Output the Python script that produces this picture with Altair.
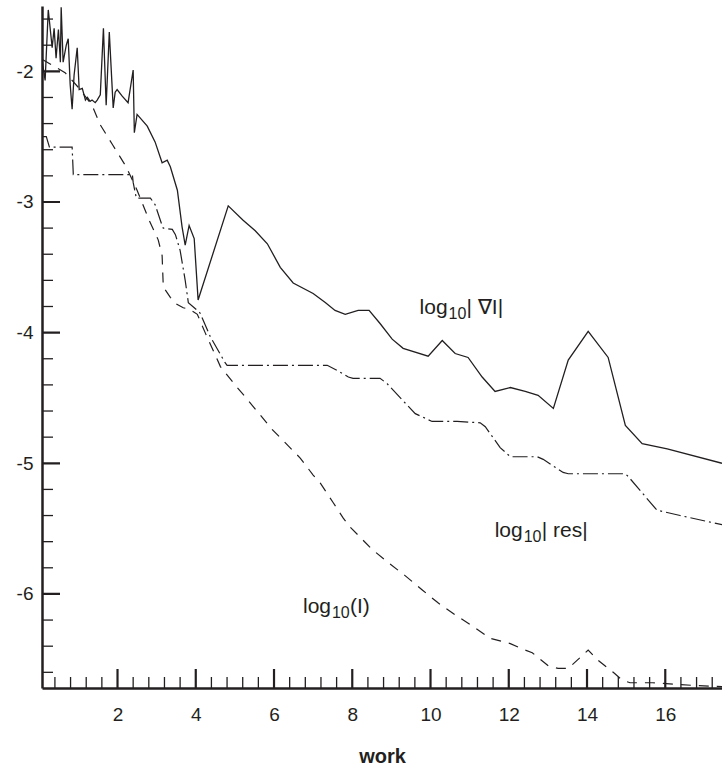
import altair as alt
import pandas as pd

# ---- data ----
grad_x = [0.08, 0.15, 0.23, 0.33, 0.38, 0.43, 0.49, 0.54, 0.56, 0.61,
          0.69, 0.74, 0.79, 0.84, 0.89, 0.97, 1.02, 1.10, 1.18, 1.23,
          1.30, 1.35, 1.43, 1.48, 1.56, 1.64, 1.71, 1.79, 1.89, 1.94,
          1.99, 2.12, 2.27, 2.40, 2.43, 2.50, 2.76, 2.96, 3.14, 3.27,
          3.35, 3.53, 3.65, 3.73, 3.83, 3.96, 4.06,
          4.83, 5.21, 5.52, 5.83, 6.16, 6.49, 7.00, 7.31, 7.56, 7.82,
          8.15, 8.43, 8.71, 9.02, 9.30, 9.94, 10.30, 10.63, 10.96, 11.32,
          11.65, 12.04, 12.42, 12.75, 13.14, 13.52, 14.03, 14.54, 14.98, 15.41,
          16.05, 17.45]
grad_y = [-1.93, -2.07, -1.53, -1.82, -1.67, -1.90, -1.68, -1.93, -1.51, -1.93,
          -1.80, -1.75, -2.10, -2.29, -2.03, -1.82, -2.14, -2.13, -2.22, -2.20,
          -2.23, -2.22, -2.24, -2.22, -2.18, -1.67, -2.26, -1.70, -2.28, -2.16,
          -2.14, -2.19, -2.24, -1.99, -2.47, -2.33, -2.42, -2.54, -2.70, -2.68,
          -2.73, -2.91, -3.19, -3.33, -3.18, -3.28, -3.75,
          -3.03, -3.14, -3.22, -3.32, -3.50, -3.62, -3.70, -3.77, -3.83, -3.86,
          -3.83, -3.83, -3.93, -4.05, -4.12, -4.18, -4.06, -4.16, -4.19, -4.34,
          -4.45, -4.42, -4.45, -4.48, -4.58, -4.21, -3.99, -4.19, -4.71, -4.85,
          -4.89, -5.00]

I_x = [0.08, 0.31, 0.66, 0.99, 1.35, 1.56, 1.87, 2.22, 2.50, 2.81,
       3.04, 3.14, 3.17, 3.35, 3.50, 3.68, 3.83, 4.04, 4.24, 4.63,
       5.06, 5.26, 5.95, 6.67, 7.00, 7.18, 7.51, 7.77, 7.95, 8.15,
       8.51, 8.92, 9.35, 9.79, 10.20, 10.63, 11.09, 11.53, 12.04, 12.34,
       12.60, 13.01, 13.26, 13.52, 14.03, 14.29, 14.67, 14.90, 15.10, 15.67,
       16.20, 16.71, 17.45]
I_y = [-1.91, -1.95, -2.01, -2.12, -2.26, -2.41, -2.56, -2.73, -2.91, -3.14,
       -3.29, -3.41, -3.65, -3.73, -3.78, -3.81, -3.82, -3.86, -4.00, -4.26,
       -4.42, -4.49, -4.74, -4.96, -5.09, -5.15, -5.30, -5.42, -5.49, -5.55,
       -5.66, -5.76, -5.86, -5.97, -6.07, -6.16, -6.25, -6.34, -6.38, -6.42,
       -6.45, -6.55, -6.57, -6.57, -6.43, -6.51, -6.60, -6.66, -6.68, -6.68,
       -6.69, -6.70, -6.71]

res_x = [0.08, 0.18, 0.26, 0.84, 0.87, 2.38, 2.40, 2.48, 2.84, 2.96,
         3.14, 3.17, 3.40, 3.48, 3.60, 3.73, 3.81, 4.04, 4.11, 4.37,
         4.75, 4.80, 7.36, 7.62, 7.90, 8.02, 8.71, 8.89, 9.23, 9.61,
         10.04, 10.68, 11.27, 11.40, 11.78, 12.04, 12.73, 12.88, 13.39, 13.52,
         14.98, 15.05, 15.79, 15.95, 16.38, 17.45]
res_y = [-2.50, -2.50, -2.58, -2.58, -2.79, -2.79, -2.85, -2.97, -2.97, -3.02,
         -3.18, -3.20, -3.21, -3.25, -3.37, -3.60, -3.77, -3.83, -3.85, -4.03,
         -4.23, -4.25, -4.25, -4.29, -4.34, -4.35, -4.35, -4.39, -4.50, -4.62,
         -4.68, -4.68, -4.69, -4.72, -4.88, -4.95, -4.95, -4.97, -5.07, -5.08,
         -5.08, -5.10, -5.36, -5.37, -5.40, -5.47]

x_major = [2, 4, 6, 8, 10, 12, 14, 16]
x_minor = [0.4, 0.8, 1.2, 1.6, 2.4, 2.8, 3.2, 3.6, 4.4, 4.8, 5.2, 5.6,
           6.4, 6.8, 7.2, 7.6, 8.4, 8.8, 9.2, 9.6, 10.4, 10.8, 11.2, 11.6,
           12.4, 12.8, 13.2, 13.6, 14.4, 14.8, 15.2, 15.6, 16.4, 16.8, 17.2]
y_major = [-2, -3, -4, -5, -6]
y_minor = [-1.6, -1.8, -2.2, -2.4, -2.6, -2.8, -3.2, -3.4, -3.6, -3.8,
           -4.2, -4.4, -4.6, -4.8, -5.2, -5.4, -5.6, -5.8, -6.2, -6.4, -6.6]

X_DOMAIN = [0.07, 17.45]
Y_DOMAIN = [-6.72, -1.5]

label_x = [9.72, 11.64, 6.74]
label_y = [-3.857, -5.567, -6.149]
label_head = ["log", "log", "log"]
label_sub = ["10", "10", "10"]
label_tail = ["| \u2207I|", "| res|", "(I)"]

INK = "#231f20"
FONT = "Liberation Sans, Arial, Helvetica, sans-serif"

xs = alt.Scale(domain=X_DOMAIN, nice=False, zero=False)
ys = alt.Scale(domain=Y_DOMAIN, nice=False, zero=False)


def series_df(xv, yv):
    return pd.DataFrame({"x": xv, "y": yv, "i": list(range(len(xv)))})


x_axis = alt.Axis(values=x_major, title="work", ticks=False, tickSize=0, grid=False,
                  domainWidth=2.5, domainColor=INK, labelFont=FONT, labelFontSize=19,
                  labelColor=INK, labelPadding=17, titleFont=FONT, titleFontSize=20,
                  titleFontWeight="bold", titleColor=INK, titlePadding=22, format="d",
                  labelFlush=False)
y_axis = alt.Axis(values=y_major, title=None, ticks=False, tickSize=0, grid=False,
                  domainWidth=2.5, domainColor=INK, labelFont=FONT, labelFontSize=19,
                  labelColor=INK, labelPadding=9,
                  labelExpr="'-' + format(abs(datum.value), 'd')", labelFlush=False)

grad = alt.Chart(series_df(grad_x, grad_y)).mark_line(
    color=INK, strokeWidth=1.3, clip=True).encode(
    x=alt.X("x:Q", scale=xs, axis=x_axis),
    y=alt.Y("y:Q", scale=ys, axis=y_axis),
    order="i:Q")

intensity = alt.Chart(series_df(I_x, I_y)).mark_line(
    color=INK, strokeWidth=1.2, strokeDash=[10, 8], clip=True).encode(
    x=alt.X("x:Q", scale=xs), y=alt.Y("y:Q", scale=ys), order="i:Q")

resid = alt.Chart(series_df(res_x, res_y)).mark_line(
    color=INK, strokeWidth=1.2, strokeDash=[15, 4, 2, 4], clip=True).encode(
    x=alt.X("x:Q", scale=xs), y=alt.Y("y:Q", scale=ys), order="i:Q")

def xticks(vals, size, thick):
    return alt.Chart(pd.DataFrame({"v": vals})).mark_tick(
        orient="vertical", size=size, thickness=thick, color=INK, clip=True, opacity=1).encode(
        x=alt.X("v:Q", scale=xs), y=alt.YDatum(Y_DOMAIN[0]))

def yticks(vals, size, thick):
    return alt.Chart(pd.DataFrame({"v": vals})).mark_tick(
        orient="horizontal", size=size, thickness=thick, color=INK, clip=True, opacity=1).encode(
        y=alt.Y("v:Q", scale=ys), x=alt.XDatum(X_DOMAIN[0]))

labels = pd.DataFrame({"x": label_x, "y": label_y, "head": label_head,
                       "sub": label_sub, "tail": label_tail})
base = alt.Chart(labels).encode(x=alt.X("x:Q", scale=xs), y=alt.Y("y:Q", scale=ys))
head = base.mark_text(align="left", baseline="alphabetic", font=FONT, fontSize=21,
                      color=INK).encode(text="head:N")
sub = base.mark_text(align="left", baseline="alphabetic", font=FONT, fontSize=16,
                     color=INK, dx=29, dy=5).encode(text="sub:N")
tail = base.mark_text(align="left", baseline="alphabetic", font=FONT, fontSize=21,
                      color=INK, dx=47).encode(text="tail:N")

chart = alt.layer(
    grad, intensity, resid,
    xticks(x_major, 38, 2.2), xticks(x_minor, 22, 1.3),
    yticks(y_major, 36, 2.2), yticks(y_minor, 22, 1.3),
    head, sub, tail,
).properties(
    width=680, height=682,
    autosize=alt.AutoSizeParams(type="none"),
    padding={"left": 42, "top": 6, "right": 0, "bottom": 82},
    background="white",
).configure_view(stroke="transparent")

chart.save("out.html", embed_options={"renderer": "svg", "actions": False})
